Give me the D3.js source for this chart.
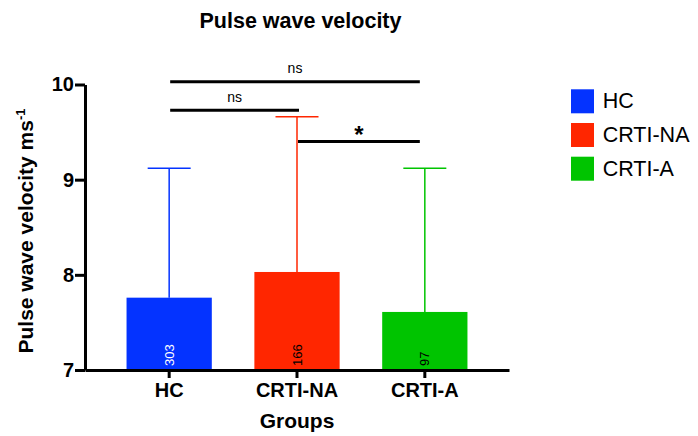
<!DOCTYPE html>
<html>
<head>
<meta charset="utf-8">
<script src="https://cdn.jsdelivr.net/npm/d3@7"></script>
<style>
  html, body { margin: 0; padding: 0; background: #fff; }
  svg { display: block; }
  text { font-family: "Liberation Sans", Arial, Helvetica, sans-serif; }
</style>
</head>
<body>
<svg id="chart" width="698" height="436"></svg>
<script>
// Group means, standard deviations and sample sizes
const groups = ["HC", "CRTI-NA", "CRTI-A"];
const means = [7.76, 8.03, 7.61];
const sds = [1.36, 1.63, 1.51];
const counts = [303, 166, 97];
const colors = ["#0433ff", "#ff2600", "#00c400"];
const countColors = ["#ffffff", "#000000", "#000000"];
const yTicks = [7, 8, 9, 10];

// Pairwise comparisons: [from, to, label, bracket height]
const compFrom = ["HC", "HC", "CRTI-NA"];
const compTo = ["CRTI-A", "CRTI-NA", "CRTI-A"];
const compLabel = ["ns", "ns", "*"];
const compLevel = [10.03, 9.73, 9.40];

const svg = d3.select("#chart");

const x = d3.scaleBand()
  .domain(groups)
  .range([85, 509])
  .paddingInner(0.333)
  .paddingOuter(0.325);

const y = d3.scaleLinear()
  .domain([7, 10])
  .range([370, 84.5]);

const bw = x.bandwidth();
const cx = g => x(g) + bw / 2;

// Title
svg.append("text")
  .attr("x", 300.5).attr("y", 27.5)
  .attr("text-anchor", "middle")
  .attr("font-size", 21.5).attr("font-weight", "bold")
  .text("Pulse wave velocity");

// Bars
const rows = groups.map((g, i) => ({ g, mean: means[i], sd: sds[i], n: counts[i], color: colors[i], nColor: countColors[i] }));

svg.append("g").selectAll("rect").data(rows).join("rect")
  .attr("x", d => x(d.g))
  .attr("y", d => y(d.mean))
  .attr("width", bw)
  .attr("height", d => y(7) - y(d.mean))
  .attr("fill", d => d.color);

// Error bars (upper side only)
const err = svg.append("g").attr("fill", "none");
err.selectAll("line.v").data(rows).join("line")
  .attr("class", "v")
  .attr("x1", d => cx(d.g)).attr("x2", d => cx(d.g))
  .attr("y1", d => y(d.mean)).attr("y2", d => y(d.mean + d.sd))
  .attr("stroke", d => d.color).attr("stroke-width", 1.5);
err.selectAll("line.c").data(rows).join("line")
  .attr("class", "c")
  .attr("x1", d => cx(d.g) - 21.5).attr("x2", d => cx(d.g) + 21.5)
  .attr("y1", d => y(d.mean + d.sd)).attr("y2", d => y(d.mean + d.sd))
  .attr("stroke", d => d.color).attr("stroke-width", 1.5);

// Sample sizes written inside each bar
svg.append("g").selectAll("text").data(rows).join("text")
  .attr("transform", d => `translate(${cx(d.g)},366) rotate(-90)`)
  .attr("text-anchor", "start")
  .attr("dominant-baseline", "central")
  .attr("font-size", 13)
  .attr("fill", d => d.nColor)
  .text(d => d.n);

// Axes
const yAxis = svg.append("g")
  .attr("transform", "translate(85,0)")
  .call(d3.axisLeft(y).tickValues(yTicks).tickFormat(d3.format("d"))
    .tickSize(10).tickPadding(1).tickSizeOuter(0));
const xAxis = svg.append("g")
  .attr("transform", "translate(0,370)")
  .call(d3.axisBottom(x).tickSize(8).tickPadding(5).tickSizeOuter(0));

[yAxis, xAxis].forEach(a => {
  a.select(".domain").attr("stroke", "#000").attr("stroke-width", 3);
  a.selectAll(".tick line").attr("stroke", "#000").attr("stroke-width", 3);
  a.selectAll(".tick text")
    .attr("fill", "#000")
    .attr("font-family", "'Liberation Sans', Arial, Helvetica, sans-serif")
    .attr("font-size", 20).attr("font-weight", "bold");
});
xAxis.selectAll(".tick text").attr("dy", "0.71em");

// Axis titles
svg.append("text")
  .attr("x", 297).attr("y", 428)
  .attr("text-anchor", "middle")
  .attr("font-size", 21).attr("font-weight", "bold")
  .text("Groups");

const yTitle = svg.append("text")
  .attr("transform", "translate(33,231) rotate(-90)")
  .attr("text-anchor", "middle")
  .attr("font-size", 21).attr("font-weight", "bold");
yTitle.append("tspan").text("Pulse wave velocity ms");
yTitle.append("tspan").attr("font-size", 13).attr("dy", -8).text("-1");

// Significance brackets
const last = groups[groups.length - 1];
const comps = compFrom.map((f, i) => ({ a: f, b: compTo[i], label: compLabel[i], level: compLevel[i] }));
const x1Of = d => cx(d.a) + 1;
const x2Of = d => cx(d.b) + (d.b === last ? -5 : 2);
const sig = svg.append("g");
sig.selectAll("line").data(comps).join("line")
  .attr("x1", x1Of)
  .attr("x2", x2Of)
  .attr("y1", d => y(d.level)).attr("y2", d => y(d.level))
  .attr("stroke", "#000").attr("stroke-width", 3);
sig.selectAll("text").data(comps).join("text")
  .attr("x", d => (x1Of(d) + x2Of(d)) / 2)
  .attr("y", d => y(d.level) - (d.label === "*" ? -1 : 8.5))
  .attr("text-anchor", "middle")
  .attr("font-size", d => d.label === "*" ? 24 : 14)
  .attr("font-weight", d => d.label === "*" ? "bold" : "normal")
  .text(d => d.label);

// Legend
const legend = svg.append("g").selectAll("g").data(rows).join("g")
  .attr("transform", (d, i) => `translate(571,${89.3 + i * 33.7})`);
legend.append("rect")
  .attr("width", 23).attr("height", 24)
  .attr("fill", d => d.color);
legend.append("text")
  .attr("x", 31.7).attr("y", 19)
  .attr("font-size", 21.5)
  .text(d => d.g);
</script>
</body>
</html>
